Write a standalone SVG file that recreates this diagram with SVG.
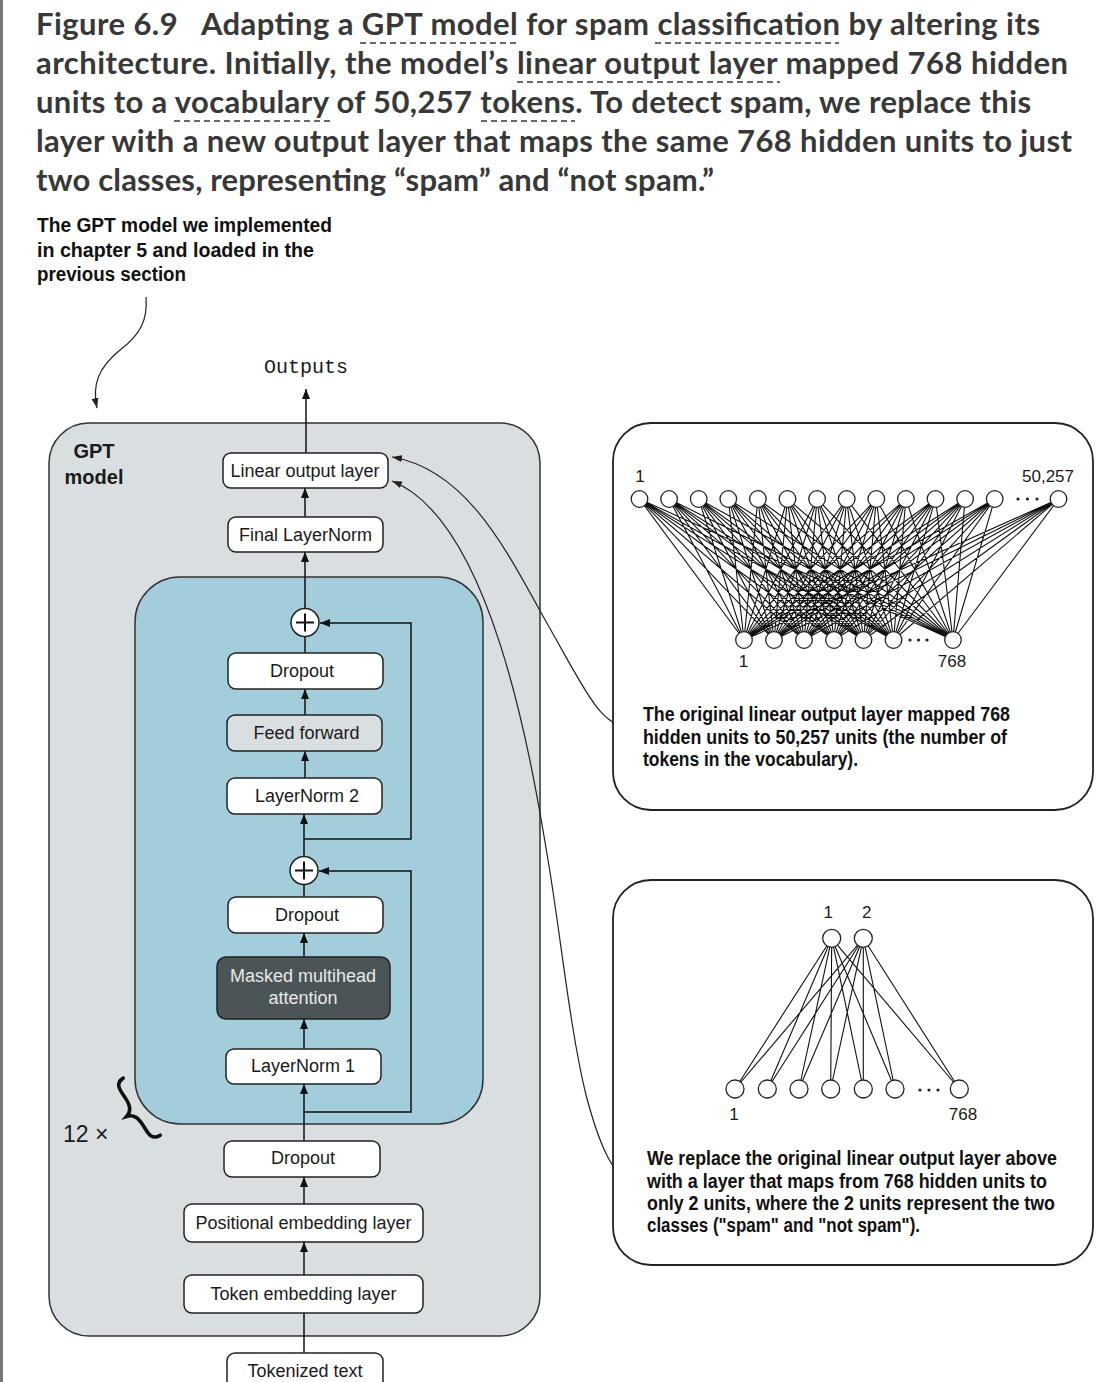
<svg xmlns="http://www.w3.org/2000/svg" width="1120" height="1382" viewBox="0 0 1120 1382">
<defs>
<marker id="ah" markerUnits="userSpaceOnUse" markerWidth="10" markerHeight="8" refX="10" refY="4" orient="auto"><path d="M0,0 L10,4 L0,8 z" fill="#111"/></marker>
<marker id="ahs" markerUnits="userSpaceOnUse" markerWidth="10" markerHeight="8" refX="10" refY="4" orient="auto"><path d="M0,0.5 L10,4 L0,7.5 z" fill="#222"/></marker>
<style>
.title{font-family:Lato,"Open Sans","Liberation Sans",sans-serif;font-weight:bold;font-size:31px;fill:#383838}
.ul{stroke:#3a3a3a;stroke-width:1.6;stroke-dasharray:6 4;fill:none}
.ann{font-family:"Liberation Sans",Arial,sans-serif;font-weight:bold;font-size:20px;fill:#111}
.box{fill:#fff;stroke:#222;stroke-width:1.5}
.lbl{font-family:"Liberation Sans",Arial,sans-serif;font-size:18px;fill:#1a1a1a;text-anchor:middle}
.num{font-family:"Liberation Sans",Arial,sans-serif;font-size:17px;fill:#1a1a1a;text-anchor:middle}
.conn{fill:none;stroke:#111;stroke-width:1.5}
.curve{fill:none;stroke:#222;stroke-width:1.2}
.edge{fill:none;stroke:#111;stroke-width:1.1}
.node{fill:#fff;stroke:#222;stroke-width:1.3}
.dot{fill:#222}
</style>
</defs>
<rect x="0" y="0" width="1120" height="1382" fill="#fff"/>
<rect x="0" y="0" width="3" height="1382" fill="#777"/>

<g id="title">
<text class="title" x="36" y="35" textLength="1004" lengthAdjust="spacing" xml:space="preserve">Figure 6.9   Adapting a GPT model for spam classification by altering its</text>
<text class="title" x="36" y="74" textLength="1032" lengthAdjust="spacing">architecture. Initially, the model’s linear output layer mapped 768 hidden</text>
<text class="title" x="36" y="113" textLength="995" lengthAdjust="spacing">units to a vocabulary of 50,257 tokens. To detect spam, we replace this</text>
<text class="title" x="36" y="152" textLength="1036" lengthAdjust="spacing">layer with a new output layer that maps the same 768 hidden units to just</text>
<text class="title" x="36" y="191" textLength="678" lengthAdjust="spacing">two classes, representing “spam” and “not spam.”</text>
<path class="ul" d="M360,43 H517 M655,43 H839 M517,82 H780 M174,121 H330 M481,121 H575"/>
</g>

<g id="annotation-gpt">
<text class="ann" x="37" y="232" textLength="295" lengthAdjust="spacingAndGlyphs">The GPT model we implemented</text>
<text class="ann" x="37" y="256.5" textLength="277" lengthAdjust="spacingAndGlyphs">in chapter 5 and loaded in the</text>
<text class="ann" x="37" y="281" textLength="149" lengthAdjust="spacingAndGlyphs">previous section</text>
</g>

<g id="gpt-model">
<rect x="49" y="423" width="491" height="913" rx="40" fill="#d9dfe1" stroke="#333" stroke-width="1.5"/>
<text x="94" y="458" font-family="'Liberation Sans',Arial,sans-serif" font-weight="bold" font-size="20" fill="#1a1a1a" text-anchor="middle">GPT</text>
<text x="94" y="484" font-family="'Liberation Sans',Arial,sans-serif" font-weight="bold" font-size="20" fill="#1a1a1a" text-anchor="middle">model</text>
</g>

<g id="transformer-block">
<rect x="135" y="577" width="348" height="547" rx="45" fill="#a4cddc" stroke="#333" stroke-width="1.5"/>
</g>

<g id="repeat-label">
<text x="63" y="1142" font-family="'Liberation Sans',Arial,sans-serif" font-size="23" fill="#1a1a1a">12 ×</text>
<path d="M8,-34 C-3,-34 -1,-24 -1,-16 C-1,-7 -3,-2 -10,0 C-3,2 -1,7 -1,16 C-1,24 -3,34 8,34" transform="translate(135,1111) rotate(-33)" fill="none" stroke="#111" stroke-width="3.6" stroke-linecap="round"/>
</g>

<g id="connectors">
<path class="curve" d="M146,297 C148,320 140,335 120,350 C98,368 92,385 97,408" marker-end="url(#ahs)"/>
<path class="conn" d="M306,453 V389" marker-end="url(#ah)"/>
<path class="conn" d="M305,517 V488" marker-end="url(#ah)"/>
<path class="conn" d="M305,609 V552" marker-end="url(#ah)"/>
<path class="conn" d="M305,653 V637"/>
<path class="conn" d="M305,715 V689" marker-end="url(#ah)"/>
<path class="conn" d="M305,778 V751" marker-end="url(#ah)"/>
<path class="conn" d="M304,856 V814" marker-end="url(#ah)"/>
<path class="conn" d="M304,839 H411 V623 H320" marker-end="url(#ah)"/>
<path class="conn" d="M304,897 V885"/>
<path class="conn" d="M304,957 V933" marker-end="url(#ah)"/>
<path class="conn" d="M304,1049 V1019" marker-end="url(#ah)"/>
<path class="conn" d="M304,1141 V1084" marker-end="url(#ah)"/>
<path class="conn" d="M304,1112 H411 V871 H319" marker-end="url(#ah)"/>
<path class="conn" d="M304,1204 V1177" marker-end="url(#ah)"/>
<path class="conn" d="M304,1275 V1242" marker-end="url(#ah)"/>
<path class="conn" d="M304,1353 V1313"/>
<path class="curve" d="M630,728 C600,726 585,690 548,625 C510,558 470,470 392,457" marker-end="url(#ahs)"/>
<path class="curve" d="M635,1185 C612,1178 598,1140 586,1095 C570,1030 560,930 548,860 C530,750 490,520 392,481" marker-end="url(#ahs)"/>
</g>

<g id="outputs"><text x="306" y="373" font-family="'Liberation Mono','Courier New',monospace" font-size="20" fill="#1a1a1a" text-anchor="middle">Outputs</text></g>

<g id="linear-output-layer"><rect class="box" x="223" y="453" width="165" height="35" rx="8"/><text class="lbl" x="305" y="477">Linear output layer</text></g>
<g id="final-layernorm"><rect class="box" x="228" y="517" width="155" height="35" rx="8"/><text class="lbl" x="305.5" y="541">Final LayerNorm</text></g>
<g id="plus-1"><circle class="box" cx="305" cy="622.5" r="14"/><path d="M296,622.5 H314 M305,613.5 V631.5" stroke="#111" stroke-width="2"/></g>
<g id="dropout-1"><rect class="box" x="228" y="653" width="155" height="36" rx="8"/><text class="lbl" x="302" y="677">Dropout</text></g>
<g id="feed-forward"><rect x="227" y="715" width="155" height="36" rx="8" fill="#d9dfe1" stroke="#222" stroke-width="1.5"/><text class="lbl" x="306.5" y="739">Feed forward</text></g>
<g id="layernorm-2"><rect class="box" x="227" y="778" width="155" height="36" rx="8"/><text class="lbl" x="307" y="802">LayerNorm 2</text></g>
<g id="plus-2"><circle class="box" cx="304" cy="870.5" r="14"/><path d="M295,870.5 H313 M304,861.5 V879.5" stroke="#111" stroke-width="2"/></g>
<g id="dropout-2"><rect class="box" x="228" y="897" width="155" height="36" rx="8"/><text class="lbl" x="307" y="921">Dropout</text></g>
<g id="masked-multihead-attention"><rect x="217" y="957" width="173" height="62" rx="9" fill="#4b5558" stroke="#222" stroke-width="1.5"/><text class="lbl" x="303" y="982" style="fill:#e8e8e8">Masked multihead</text><text class="lbl" x="303" y="1004" style="fill:#e8e8e8">attention</text></g>
<g id="layernorm-1"><rect class="box" x="226" y="1049" width="155" height="35" rx="8"/><text class="lbl" x="303" y="1072">LayerNorm 1</text></g>
<g id="dropout-3"><rect class="box" x="224" y="1141" width="156" height="36" rx="8"/><text class="lbl" x="303" y="1164">Dropout</text></g>
<g id="positional-embedding"><rect class="box" x="184" y="1204" width="239" height="38" rx="8"/><text class="lbl" x="303.5" y="1229">Positional embedding layer</text></g>
<g id="token-embedding"><rect class="box" x="184" y="1275" width="239" height="38" rx="8"/><text class="lbl" x="303.5" y="1300">Token embedding layer</text></g>
<g id="tokenized-text"><rect class="box" x="227" y="1353" width="156" height="45" rx="8"/><text class="lbl" x="305" y="1377">Tokenized text</text></g>

<g id="original-layer-panel">
<rect x="613" y="423" width="480" height="387" rx="38" fill="#fff" stroke="#222" stroke-width="1.8"/>
<path class="edge" d="M639.5,499L744,640M639.5,499L774,640M639.5,499L804,640M639.5,499L834,640M639.5,499L863.5,640M639.5,499L893.5,640M639.5,499L953,640
M669.1,499L744,640M669.1,499L774,640M669.1,499L804,640M669.1,499L834,640M669.1,499L863.5,640M669.1,499L893.5,640M669.1,499L953,640
M698.7,499L744,640M698.7,499L774,640M698.7,499L804,640M698.7,499L834,640M698.7,499L863.5,640M698.7,499L893.5,640M698.7,499L953,640
M728.3,499L744,640M728.3,499L774,640M728.3,499L804,640M728.3,499L834,640M728.3,499L863.5,640M728.3,499L893.5,640M728.3,499L953,640
M757.9,499L744,640M757.9,499L774,640M757.9,499L804,640M757.9,499L834,640M757.9,499L863.5,640M757.9,499L893.5,640M757.9,499L953,640
M787.5,499L744,640M787.5,499L774,640M787.5,499L804,640M787.5,499L834,640M787.5,499L863.5,640M787.5,499L893.5,640M787.5,499L953,640
M817.1,499L744,640M817.1,499L774,640M817.1,499L804,640M817.1,499L834,640M817.1,499L863.5,640M817.1,499L893.5,640M817.1,499L953,640
M846.7,499L744,640M846.7,499L774,640M846.7,499L804,640M846.7,499L834,640M846.7,499L863.5,640M846.7,499L893.5,640M846.7,499L953,640
M876.3,499L744,640M876.3,499L774,640M876.3,499L804,640M876.3,499L834,640M876.3,499L863.5,640M876.3,499L893.5,640M876.3,499L953,640
M905.9,499L744,640M905.9,499L774,640M905.9,499L804,640M905.9,499L834,640M905.9,499L863.5,640M905.9,499L893.5,640M905.9,499L953,640
M935.5,499L744,640M935.5,499L774,640M935.5,499L804,640M935.5,499L834,640M935.5,499L863.5,640M935.5,499L893.5,640M935.5,499L953,640
M965.1,499L744,640M965.1,499L774,640M965.1,499L804,640M965.1,499L834,640M965.1,499L863.5,640M965.1,499L893.5,640M965.1,499L953,640
M994.7,499L744,640M994.7,499L774,640M994.7,499L804,640M994.7,499L834,640M994.7,499L863.5,640M994.7,499L893.5,640M994.7,499L953,640
M1058.5,499L744,640M1058.5,499L774,640M1058.5,499L804,640M1058.5,499L834,640M1058.5,499L863.5,640M1058.5,499L893.5,640M1058.5,499L953,640"/>
<g>
<circle class="node" cx="639.5" cy="499" r="8.3"/><circle class="node" cx="669.1" cy="499" r="8.3"/><circle class="node" cx="698.7" cy="499" r="8.3"/><circle class="node" cx="728.3" cy="499" r="8.3"/><circle class="node" cx="757.9" cy="499" r="8.3"/><circle class="node" cx="787.5" cy="499" r="8.3"/><circle class="node" cx="817.1" cy="499" r="8.3"/><circle class="node" cx="846.7" cy="499" r="8.3"/><circle class="node" cx="876.3" cy="499" r="8.3"/><circle class="node" cx="905.9" cy="499" r="8.3"/><circle class="node" cx="935.5" cy="499" r="8.3"/><circle class="node" cx="965.1" cy="499" r="8.3"/><circle class="node" cx="994.7" cy="499" r="8.3"/><circle class="node" cx="1058.5" cy="499" r="8.3"/>
<circle class="dot" cx="1018" cy="499" r="1.6"/><circle class="dot" cx="1027.5" cy="499" r="1.6"/><circle class="dot" cx="1037" cy="499" r="1.6"/>
<circle class="node" cx="744" cy="640" r="8.3"/><circle class="node" cx="774" cy="640" r="8.3"/><circle class="node" cx="804" cy="640" r="8.3"/><circle class="node" cx="834" cy="640" r="8.3"/><circle class="node" cx="863.5" cy="640" r="8.3"/><circle class="node" cx="893.5" cy="640" r="8.3"/><circle class="node" cx="953" cy="640" r="8.3"/>
<circle class="dot" cx="910" cy="640" r="1.6"/><circle class="dot" cx="918.5" cy="640" r="1.6"/><circle class="dot" cx="927" cy="640" r="1.6"/>
</g>
<text class="num" x="640" y="482">1</text>
<text class="num" x="1074" y="482" style="text-anchor:end">50,257</text>
<text class="num" x="743.5" y="667">1</text>
<text class="num" x="952" y="667">768</text>
<text class="ann" x="643" y="721" textLength="367" lengthAdjust="spacingAndGlyphs">The original linear output layer mapped 768</text>
<text class="ann" x="643" y="743.5" textLength="364" lengthAdjust="spacingAndGlyphs">hidden units to 50,257 units (the number of</text>
<text class="ann" x="643" y="766" textLength="215" lengthAdjust="spacingAndGlyphs">tokens in the vocabulary).</text>
</g>

<g id="new-layer-panel">
<rect x="613" y="880" width="480" height="385" rx="38" fill="#fff" stroke="#222" stroke-width="1.8"/>
<path class="edge" d="M831.7,938.3L735,1089M831.7,938.3L767.3,1089M831.7,938.3L799,1089M831.7,938.3L830.7,1089M831.7,938.3L863.3,1089M831.7,938.3L895,1089M831.7,938.3L959.3,1089
M863.3,938.3L735,1089M863.3,938.3L767.3,1089M863.3,938.3L799,1089M863.3,938.3L830.7,1089M863.3,938.3L863.3,1089M863.3,938.3L895,1089M863.3,938.3L959.3,1089"/>
<circle class="node" cx="831.7" cy="938.3" r="9"/><circle class="node" cx="863.3" cy="938.3" r="9"/>
<circle class="node" cx="735" cy="1089" r="9"/><circle class="node" cx="767.3" cy="1089" r="9"/><circle class="node" cx="799" cy="1089" r="9"/><circle class="node" cx="830.7" cy="1089" r="9"/><circle class="node" cx="863.3" cy="1089" r="9"/><circle class="node" cx="895" cy="1089" r="9"/><circle class="node" cx="959.3" cy="1089" r="9"/>
<circle class="dot" cx="920" cy="1090" r="1.6"/><circle class="dot" cx="929" cy="1090" r="1.6"/><circle class="dot" cx="938" cy="1090" r="1.6"/>
<text class="num" x="828.3" y="918">1</text>
<text class="num" x="866.7" y="918">2</text>
<text class="num" x="734" y="1120">1</text>
<text class="num" x="963" y="1120">768</text>
<text class="ann" x="647" y="1165" textLength="410" lengthAdjust="spacingAndGlyphs">We replace the original linear output layer above</text>
<text class="ann" x="647" y="1187.5" textLength="400" lengthAdjust="spacingAndGlyphs">with a layer that maps from 768 hidden units to</text>
<text class="ann" x="647" y="1210" textLength="408" lengthAdjust="spacingAndGlyphs">only 2 units, where the 2 units represent the two</text>
<text class="ann" x="647" y="1232" textLength="273" lengthAdjust="spacingAndGlyphs">classes ("spam" and "not spam").</text>
</g>
</svg>
